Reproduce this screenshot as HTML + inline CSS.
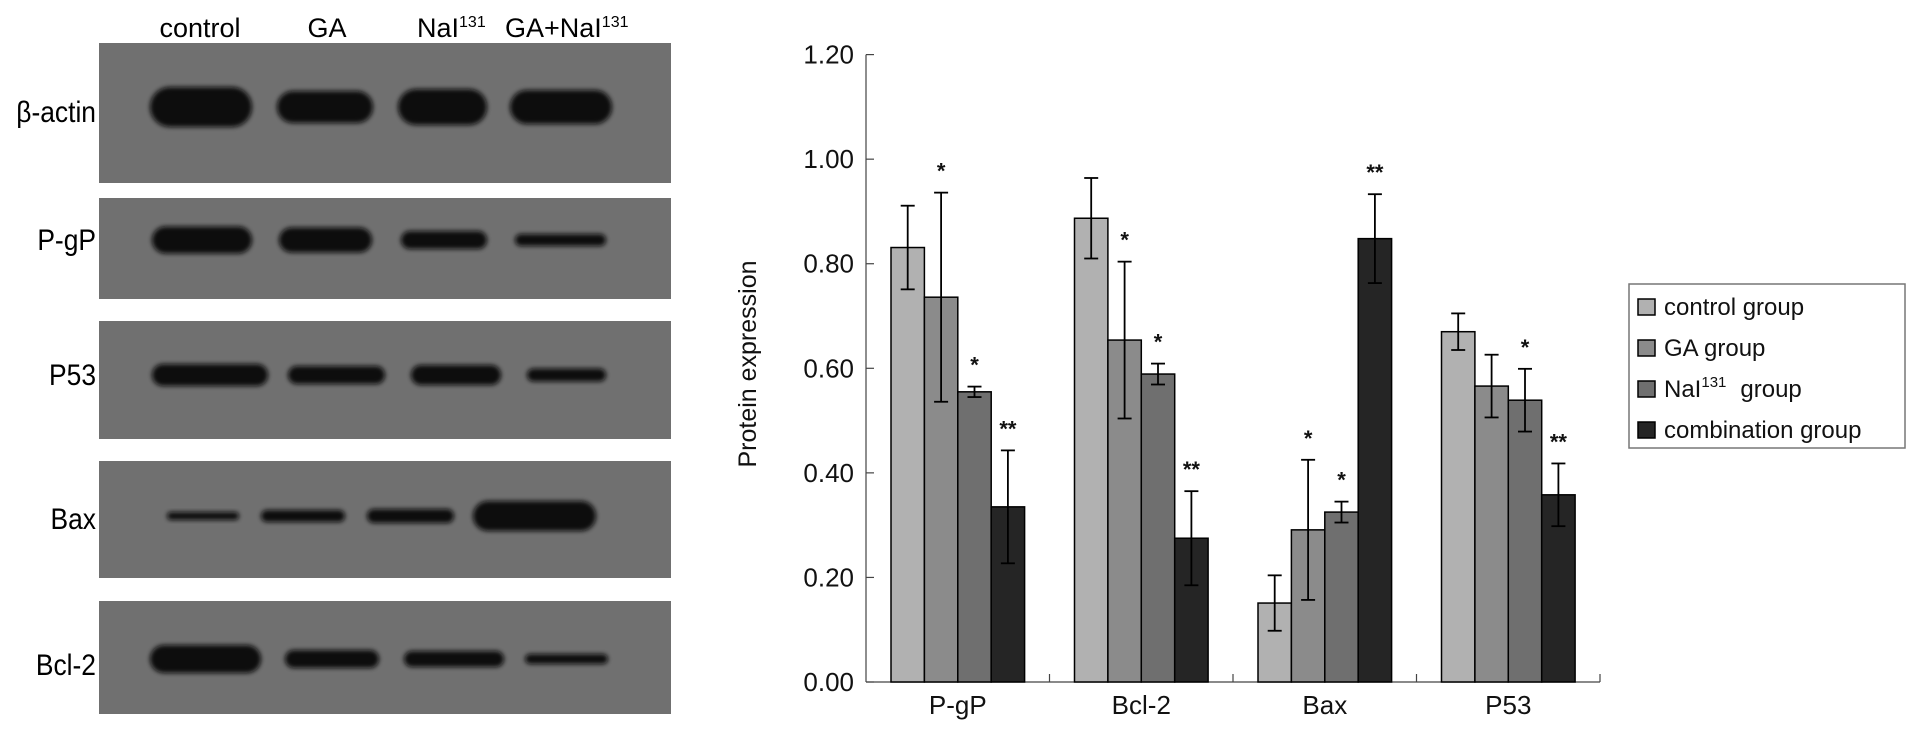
<!DOCTYPE html>
<html><head><meta charset="utf-8"><style>
html,body{margin:0;padding:0;background:#fff;overflow:hidden;}
svg{display:block;font-family:"Liberation Sans",Arial,sans-serif;}
</style></head><body>
<svg id="fig" width="1913" height="731" viewBox="0 0 1913 731" xmlns="http://www.w3.org/2000/svg">
<defs>
<filter id="blur" x="-20%" y="-50%" width="140%" height="200%"><feGaussianBlur stdDeviation="2.5"/></filter>
</defs>
<g id="blot">
<g font-size="27" fill="#000">
<text x="200" y="37" text-anchor="middle">control</text>
<text x="327" y="37" text-anchor="middle">GA</text>
<text x="417" y="37">NaI<tspan font-size="16" dy="-10">131</tspan></text>
<text x="505" y="37">GA+NaI<tspan font-size="16" dy="-10">131</tspan></text>
</g>
</g>
<g id="chart"></g>
</svg>
<script>
var NS='http://www.w3.org/2000/svg';
function mk(tag,attrs,parent,txt){var e=document.createElementNS(NS,tag);for(var k in attrs)e.setAttribute(k,attrs[k]);if(txt!==undefined)e.textContent=txt;parent.appendChild(e);return e;}

// ---- Blot panels ----
var blotRows=['β-actin','P-gP','P53','Bax','Bcl-2'];
var blotPanelTop=[43,198,321,461,601];
var blotPanelBottom=[183,299,439,578,714];
var blotBandY=[107,240,375,516,659];
var blotLabelY=[112,240,375,519,665];
var blotBandX=[[150,252],[277,373],[398,487],[510,612],[152,252],[279,372],[401,487],[515,606],[152,268],[288,385],[411,501],[527,606],[167,239],[261,345],[367,454],[473,596],[150,261],[285,379],[404,504],[525,608]];
var blotBandH=[[40,32,36,34],[27,25,18,12],[22,18,20,13],[8,12,14,30],[28,18,16,10]];
var blot=document.getElementById('blot');
blotRows.forEach(function(name,r){
  var p=mk('rect',{x:99,y:blotPanelTop[r],width:572,height:blotPanelBottom[r]-blotPanelTop[r],fill:'#707070'},blot);
  
  
  var lbl=mk('text',{x:96,y:blotLabelY[r]+10,'text-anchor':'end','font-size':'30',transform:'translate(96 0) scale(0.88 1) translate(-96 0)'},blot,name);
  
  
  for(var l=0;l<4;l++){
    var bx=blotBandX[r*4+l],h=blotBandH[r][l];
    var b=mk('rect',{x:bx[0],y:blotBandY[r]-h/2,width:bx[1]-bx[0],height:h,rx:h/2,ry:h/2,fill:'#080808',filter:'url(#blur)'},blot);
    
    
  }
});

// ---- Chart data ----
var categories=['P-gP','Bcl-2','Bax','P53'];
var seriesNames=['control group','GA group','NaI131 group','combination group'];
var controlVals=[0.831,0.887,0.151,0.670];
var gaVals=[0.736,0.654,0.291,0.566];
var naiVals=[0.555,0.589,0.325,0.539];
var comboVals=[0.335,0.275,0.848,0.358];
var controlErr=[0.08,0.077,0.053,0.035];
var gaErr=[0.20,0.15,0.134,0.06];
var naiErr=[0.01,0.02,0.02,0.06];
var comboErr=[0.108,0.09,0.085,0.06];
var controlStars=['','','',''];
var gaStars=['*','*','*',''];
var naiStars=['*','*','*','*'];
var comboStars=['**','**','**','**'];
var yTicks=[0,0.2,0.4,0.6,0.8,1.0,1.2];
var yTickLabels=['0.00','0.20','0.40','0.60','0.80','1.00','1.20'];

var seriesVals=[controlVals,gaVals,naiVals,comboVals];
var seriesErr=[controlErr,gaErr,naiErr,comboErr];
var seriesStars=[controlStars,gaStars,naiStars,comboStars];
var colors=['#b1b1b1','#8b8b8b','#6f6f6f','#252525'];

var X0=866,X1=1600,Y0=682,YTOP=54.6;
function y(v){return Y0-(v/1.2)*(Y0-YTOP);}
var catW=(X1-X0)/categories.length;
function catX(i){return X0+i*catW;}
var barW=33.4,barOff=25;
function barX(i,s){return catX(i)+barOff+s*barW;}

var ch=document.getElementById('chart');
var ya=mk('line',{x1:X0,y1:YTOP,x2:X0,y2:Y0,stroke:'#444','stroke-width':1.2},ch);

var xa=mk('line',{x1:X0,y1:Y0,x2:X1,y2:Y0,stroke:'#444','stroke-width':1.2},ch);

yTicks.forEach(function(t,i){
  var tk=mk('line',{x1:X0,y1:y(t),x2:X0+8,y2:y(t),stroke:'#444','stroke-width':1.2},ch);
  
  var tl=mk('text',{x:854,y:y(t)+9,'text-anchor':'end','font-size':'26',fill:'#111'},ch,yTickLabels[i]);
  
});
for(var i=1;i<=categories.length;i++){
  var d=mk('line',{x1:catX(i),y1:Y0,x2:catX(i),y2:Y0-8,stroke:'#444','stroke-width':1.2},ch);
  
}
var yt=mk('text',{x:0,y:0,'text-anchor':'middle','font-size':'25',fill:'#111',transform:'translate(756 364) rotate(-90)'},ch,'Protein expression');


categories.forEach(function(c,i){
  var cl=mk('text',{x:catX(i)+barOff+2*barW,y:714,'text-anchor':'middle','font-size':'26',fill:'#111'},ch,c);
  
  for(var s=0;s<4;s++){
    var v=seriesVals[s][i],e=seriesErr[s][i],bx=barX(i,s);
    var r=mk('rect',{x:bx,y:y(v),width:barW,height:Y0-y(v),fill:colors[s],stroke:'#000','stroke-width':1.5},ch);
    
    
    var cx=bx+barW/2;
    var g=mk('g',{stroke:'#000','stroke-width':1.8},ch);
    
    
    mk('line',{x1:cx,y1:y(v+e),x2:cx,y2:y(v-e)},g);
    mk('line',{x1:cx-7,y1:y(v+e),x2:cx+7,y2:y(v+e)},g);
    mk('line',{x1:cx-7,y1:y(v-e),x2:cx+7,y2:y(v-e)},g);
    if(seriesStars[s][i]){
      var st=mk('text',{x:cx,y:y(v+e)-14,'text-anchor':'middle','font-size':'22','font-weight':'bold',fill:'#111'},ch,seriesStars[s][i]);
      
      
    }
  }
});

var lg=mk('g',{},ch);

mk('rect',{x:1629,y:284,width:276,height:164,fill:'#fff',stroke:'#777','stroke-width':1.5},lg);
var rowY=[307,348,389,430];
seriesNames.forEach(function(n,s){
  var it=mk('g',{},lg);
  
  
  mk('rect',{x:1638,y:rowY[s]-8,width:17,height:16,fill:colors[s],stroke:'#000','stroke-width':1.5},it);
  var t=mk('text',{x:1664,y:rowY[s]+8,'font-size':'24',fill:'#111'},it);
  if(n.indexOf('131')>0){
    t.appendChild(document.createTextNode('NaI'));
    mk('tspan',{'font-size':'15',dy:'-10'},t,'131');
    mk('tspan',{dy:'10',dx:'14'},t,'group');
  } else t.textContent=n;
});
</script>
</body></html>
